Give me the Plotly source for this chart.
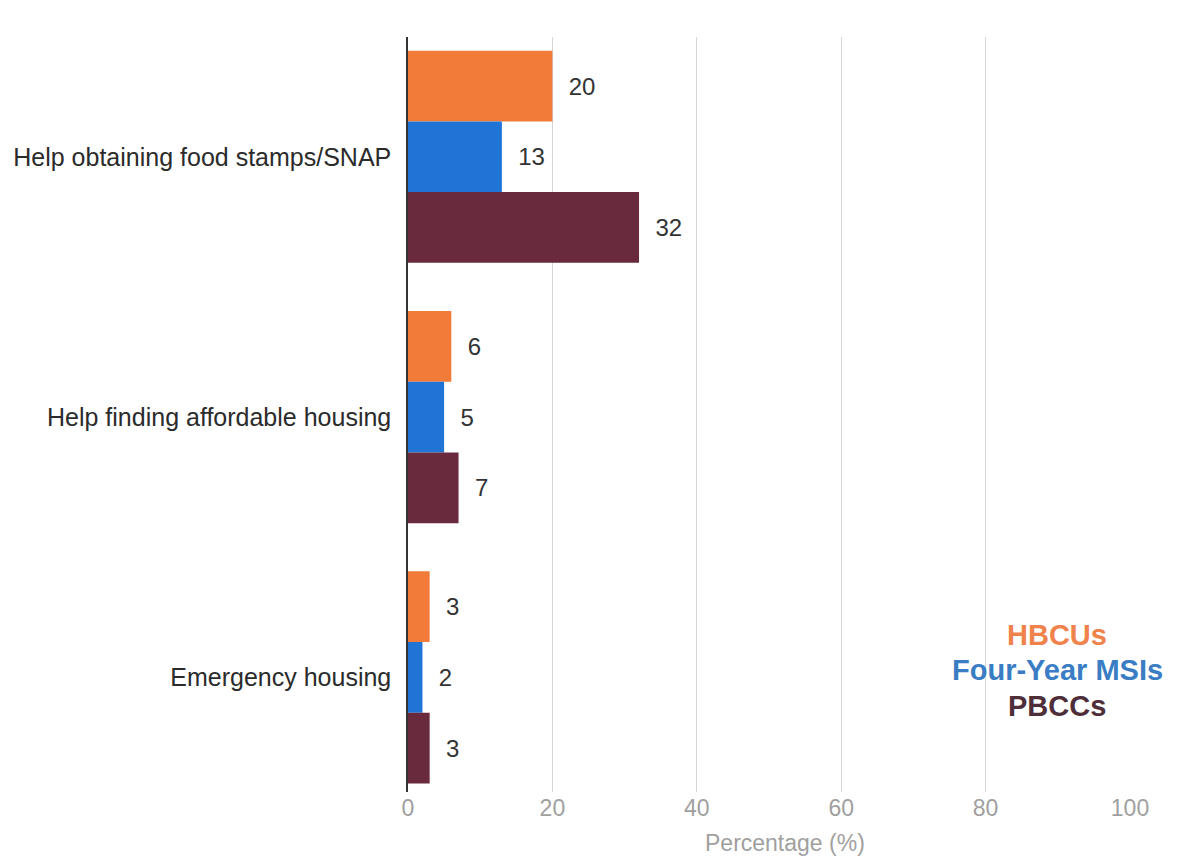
import plotly.graph_objects as go

# Support services offered, by institution type (percent of institutions)
categories = [
    "Help obtaining food stamps/SNAP",
    "Help finding affordable housing",
    "Emergency housing",
]
series_names = ["HBCUs", "Four-Year MSIs", "PBCCs"]
hbcus = [20, 6, 3]
four_year_msis = [13, 5, 2]
pbccs = [32, 7, 3]
x_ticks = [0, 20, 40, 60, 80, 100]

colors = ["#F27B3A", "#1F74D6", "#6A2A3D"]
legend_colors = ["#F0824C", "#3A7DC4", "#4E2E38"]
values = [hbcus, four_year_msis, pbccs]

FONT = "Liberation Sans, Arial, Helvetica, sans-serif"

fig = go.Figure()
for name, vals, col in zip(series_names, values, colors):
    fig.add_trace(go.Bar(
        name=name,
        y=categories,
        x=vals,
        orientation="h",
        marker=dict(color=col, line=dict(width=0)),
        text=vals,
        texttemplate="\u00a0\u00a0%{x}",
        textposition="outside",
        cliponaxis=False,
        textfont=dict(family=FONT, size=24, color="#333333"),
    ))

# Series key in the lower right
legend_y = [635, 670, 706]
for name, col, py in zip(series_names, legend_colors, legend_y):
    fig.add_annotation(
        text="<b>%s</b>" % name,
        xref="paper", yref="paper",
        x=(1057 - 408) / 722,
        y=1 - (py - 37) / 755,
        xanchor="center", yanchor="middle",
        showarrow=False,
        font=dict(family=FONT, size=29, color=col),
    )

# Axis title
fig.add_annotation(
    text="Percentage (%)",
    xref="paper", yref="paper",
    x=(785 - 408) / 722, y=1 - (843 - 37) / 755,
    xanchor="center", yanchor="middle",
    showarrow=False,
    font=dict(family=FONT, size=23, color="#a0a0a0"),
)

fig.update_layout(
    width=1183,
    height=858,
    margin=dict(l=408, r=53, t=37, b=66),
    paper_bgcolor="white",
    plot_bgcolor="white",
    barmode="group",
    bargap=0.185,
    bargroupgap=0,
    showlegend=False,
    xaxis=dict(
        range=[0, 100],
        tickvals=x_ticks,
        showgrid=True,
        gridcolor="#d6d6d6",
        gridwidth=1,
        zeroline=False,
        showline=False,
        ticks="",
        tickfont=dict(family=FONT, size=23, color="#a0a0a0"),
    ),
    yaxis=dict(
        type="category",
        categoryorder="array",
        categoryarray=categories,
        range=[2.44, -0.46],
        showline=True,
        linecolor="#333333",
        linewidth=1.5,
        showgrid=False,
        ticks="",
        ticklabelstandoff=10,
        tickfont=dict(family=FONT, size=25, color="#2b2b2b"),
    ),
)

fig.write_html("out.html")
